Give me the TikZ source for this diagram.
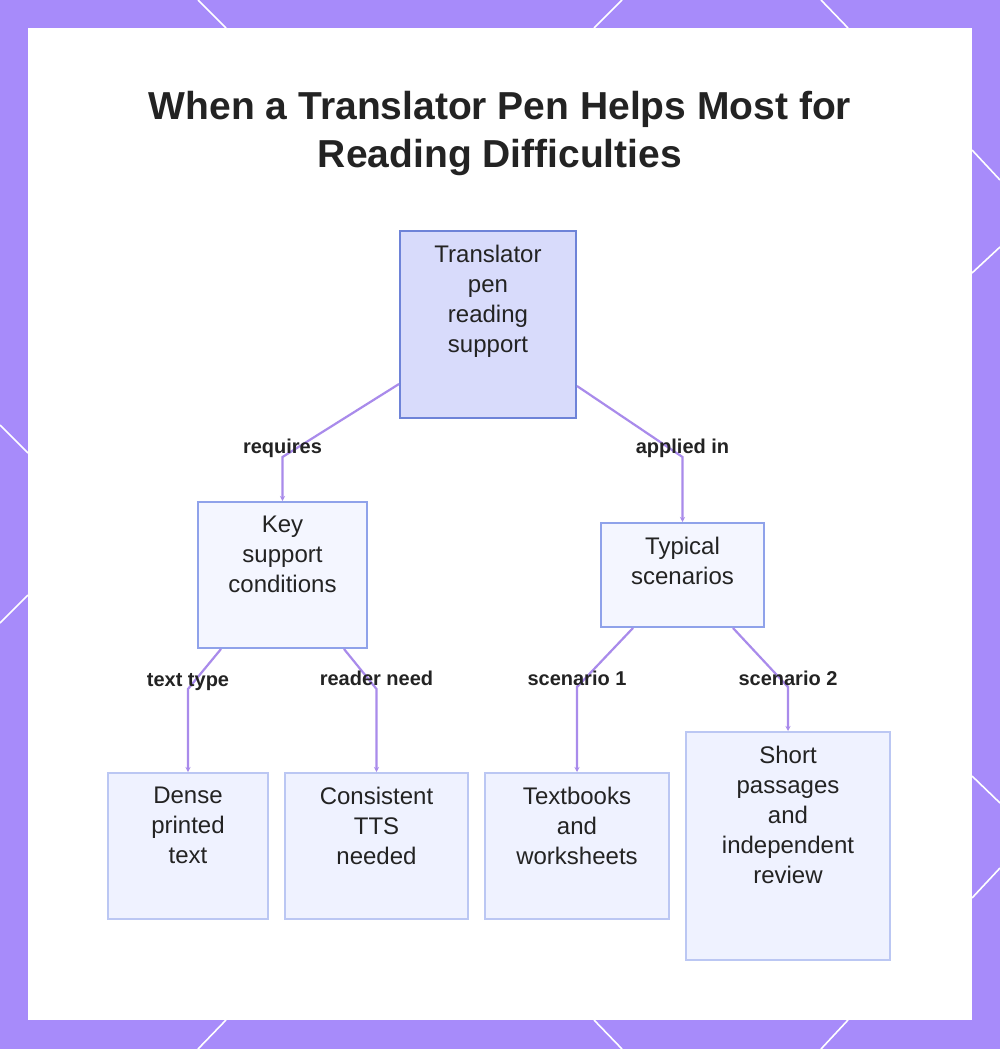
\documentclass[tikz,border=0pt]{standalone}
\usepackage{fontspec}
\setmainfont{Liberation Sans}
\usetikzlibrary{calc,positioning,arrows.meta}

\begin{document}
\begin{tikzpicture}[
            x=1pt,y=-1pt,
            node distance=15pt,
            lbl/.style={text=txx,font=\fontsize{20}{24}\selectfont\bfseries,inner sep=0pt}
        ]
            \definecolor{bgx}{HTML}{A78BFA}
            \definecolor{lnx}{HTML}{A98BEB}
            \definecolor{rtf}{HTML}{D8DBFB}
            \definecolor{rtd}{HTML}{6E83D8}
            \definecolor{mdf}{HTML}{F4F6FF}
            \definecolor{mdd}{HTML}{8FA2EA}
            \definecolor{lff}{HTML}{EFF2FF}
            \definecolor{lfd}{HTML}{BBC7F3}
            \definecolor{txx}{HTML}{232323}

            \useasboundingbox (0,0) rectangle (1000,1049);
            \fill [bgx] (0,0) rectangle (1000,1049);
            \begin{scope}[white,line width=1.6pt]
                \draw (198,0) -- (226,28);
                \draw (622,0) -- (594,28);
                \draw (821,0) -- (848,28);
                \draw (226,1020) -- (198,1049);
                \draw (594,1020) -- (622,1049);
                \draw (848,1020) -- (821,1049);
                \draw (0,425) -- (28,453);
                \draw (28,595) -- (0,623);
                \draw (972,150) -- (1000,180);
                \draw (972,273) -- (1000,247);
                \draw (972,776) -- (1000,803);
                \draw (972,898) -- (1000,868);
            \end{scope}
            \fill [white] (28,28) rectangle (972,1020);

            \node (title) at (500,134) [align=center,text=txx,font=\fontsize{39}{48}\selectfont\bfseries]
                {When a Translator Pen Helps Most for\\Reading Difficulties};

            % boxes
            \begin{scope}[
                every node/.style={draw,line width=2pt,inner sep=0pt}
            ]
                \node (R)  at (488,324.5) [fill=rtf,draw=rtd,minimum width=176,minimum height=187] {};
                \node (K)  at (282.5,575) [fill=mdf,draw=mdd,minimum width=169,minimum height=146] {};
                \node (T)  at (682.5,575) [fill=mdf,draw=mdd,minimum width=163,minimum height=104] {};
                \node (k1) at (188,846)   [fill=lff,draw=lfd,minimum width=160,minimum height=146] {};
                \node (k2) at (376.5,846) [fill=lff,draw=lfd,minimum width=183,minimum height=146] {};
                \node (t1) at (577,846)   [fill=lff,draw=lfd,minimum width=184,minimum height=146] {};
                \node (t2) at (788,846)   [fill=lff,draw=lfd,minimum width=204,minimum height=228] {};
            \end{scope}

            \begin{scope}[
                every node/.style={align=center,inner sep=0pt,text=txx,font=\fontsize{24}{30}\selectfont}
            ]
                \node [below=of R.north]  {Translator\\pen\\reading\\support};
                \node [below=of K.north]  {Key\\support\\conditions};
                \node [below=of T.north]  {Typical\\scenarios};
                \node [below=of k1.north] {Dense\\printed\\text};
                \node [below=of k2.north] {Consistent\\TTS\\needed};
                \node [below=of t1.north] {Textbooks\\and\\worksheets};
                \node [below=of t2.north] {Short\\passages\\and\\independent\\review};
            \end{scope}

            % links
            \begin{scope}[
                lnx,line width=2.2pt,-{Stealth[length=5pt,width=5pt]}
            ]
                \draw ($(R.south west)+(0,-35)$) -- ($(K.north)+(0,-44)$)  node[lbl,yshift=9pt]  {requires}    -- (K.north);
                \draw ($(R.south east)+(0,-33)$) -- ($(T.north)+(0,-65)$)  node[lbl,yshift=9pt]  {applied in}  -- (T.north);
                \draw ($(K.south west)+(24,0)$)  -- ($(k1.north)+(0,-83)$) node[lbl,yshift=7pt]  {text type}   -- (k1.north);
                \draw ($(K.south east)+(-24,0)$) -- ($(k2.north)+(0,-83)$) node[lbl,yshift=11pt] {reader need} -- (k2.north);
                \draw ($(T.south west)+(33,0)$)  -- ($(t1.north)+(0,-85)$) node[lbl,yshift=9pt]  {scenario 1}  -- (t1.north);
                \draw ($(T.south east)+(-32,0)$) -- ($(t2.north)+(0,-44)$) node[lbl,yshift=9pt]  {scenario 2}  -- (t2.north);
            \end{scope}
        \end{tikzpicture}
\end{document}
